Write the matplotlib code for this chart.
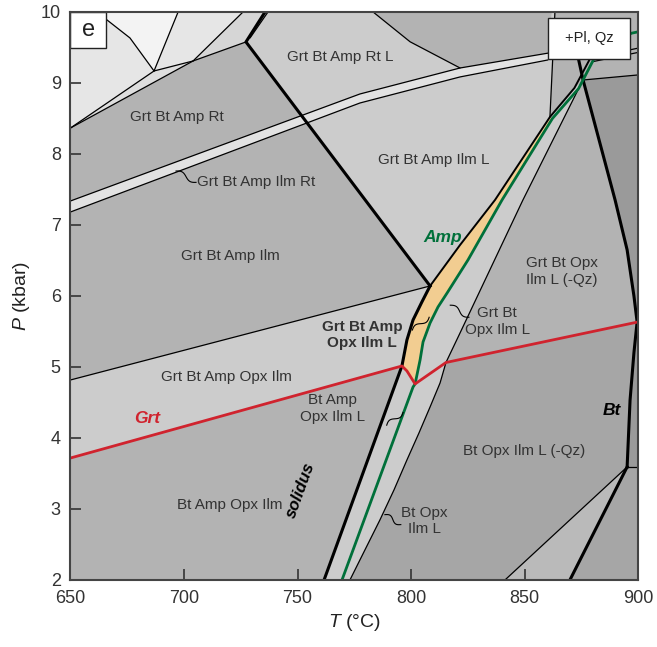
import matplotlib
matplotlib.use('Agg')
import matplotlib.pyplot as plt
import numpy as np
from matplotlib.patches import Polygon, Rectangle

plt.rcParams['font.family'] = ['Liberation Sans', 'DejaVu Sans']
plt.rcParams['mathtext.fontset'] = 'custom'
plt.rcParams['mathtext.it'] = 'Liberation Sans:italic'
plt.rcParams['mathtext.rm'] = 'Liberation Sans'

# ---- phase boundaries (T in degC, P in kbar) ----
solidus_T = [761.7, 796.0, 798.2, 800.9, 804.8, 808.4]
solidus_P = [2.0, 5.014, 5.38, 5.662, 5.916, 6.141]

amp_edge_T = [808.4, 821.6, 837.0, 861.2, 872.0, 879.0]
amp_edge_P = [6.141, 6.718, 7.352, 8.521, 8.93, 9.35]

amp_out_T = [769.6, 800.9, 801.8, 804.0, 805.3, 808.4, 811.9, 815.9, 825.1, 840.1, 862.3, 873.8, 880.6, 897.0, 900.0]
amp_out_P = [2.0, 4.718, 4.761, 5.099, 5.352, 5.62, 5.845, 6.042, 6.507, 7.352, 8.50, 8.92, 9.34, 9.70, 9.72]

grt_out_T = [650.0, 796.0, 798.2, 801.8, 815.4, 900.0]
grt_out_P = [3.718, 5.014, 4.944, 4.761, 5.063, 5.634]

qz_out_T = [773.1, 779.7, 786.3, 792.5, 798.2, 803.5, 808.4, 812.8, 815.4, 821.6, 849.3, 875.3]
qz_out_P = [2.0, 2.423, 2.845, 3.268, 3.69, 4.07, 4.437, 4.775, 5.063, 5.479, 7.352, 9.014]
QZ_KINK = 8  # index where the Grt-out line meets qz-out

opx_in_T = [650.0, 808.4]
opx_in_P = [4.817, 6.141]

melt_in_T = [735.7, 727.3, 808.4]
melt_in_P = [10.0, 9.578, 6.141]
melt_in2_T = [729.1, 737.0]
melt_in2_P = [9.634, 10.0]

rt_up_T = [650.0, 777.5, 821.6, 860.3]
rt_up_P = [7.338, 8.845, 9.211, 9.42]
rt_lo_T = [650.0, 777.5, 821.6, 860.3]
rt_lo_P = [7.183, 8.718, 9.085, 9.324]

tl_a_T = [650.0, 686.8]; tl_a_P = [8.366, 9.169]
tl_b_T = [650.0, 704.0, 727.3]; tl_b_P = [8.366, 9.31, 9.578]
tl_c_T = [686.8, 704.0]; tl_c_P = [9.169, 9.31]
tl_d_T = [686.8, 697.4]; tl_d_P = [9.169, 10.0]
tl_e_T = [686.8, 676.2, 666.1, 662.0]; tl_e_P = [9.169, 9.634, 9.887, 10.0]
tl_f_T = [704.0, 726.0]; tl_f_P = [9.31, 10.0]

top_T = [783.3, 799.6, 821.6]
top_P = [10.0, 9.58, 9.211]

vert_T = [861.2, 863.4]
vert_P = [8.521, 10.0]

bt_out_T = [873.0, 875.8, 889.9, 895.2, 898.2, 899.6, 898.2, 896.5, 895.2]
bt_out_P = [9.45, 9.042, 7.352, 6.65, 6.0, 5.634, 5.2, 4.535, 3.592]
bt_low_T = [895.2, 870.0]; bt_low_P = [3.592, 2.0]
bt_thin_T = [895.2, 841.4]; bt_thin_P = [3.592, 2.0]
bt_h_T = [895.2, 900.0]; bt_h_P = [3.592, 3.592]
tr_T = [875.8, 900.0]; tr_P = [9.042, 9.113]
tr2_T = [880.0, 900.0]; tr2_P = [9.36, 9.49]
tr3_T = [880.0, 900.0]; tr3_P = [9.30, 9.43]

x_ticks = [650, 700, 750, 800, 850, 900]
y_ticks = [2, 3, 4, 5, 6, 7, 8, 9, 10]


def pts(T, P):
    return np.column_stack([T, P])


fig = plt.figure(figsize=(6.57, 6.47), dpi=100)
ax = fig.add_axes([0.1073, 0.1036, 0.8638, 0.8779])
ax.set_xlim(650, 900)
ax.set_ylim(2, 10)
ax.set_autoscale_on(False)

def fill(poly, color, z=1):
    ax.add_patch(Polygon(poly, closed=True, facecolor=color, edgecolor='none', zorder=z))

# base colour
fill(np.array([[650, 2], [900, 2], [900, 10], [650, 10]]), '#b3b3b3', 0.5)

sol = pts(solidus_T, solidus_P)
ae = pts(amp_edge_T, amp_edge_P)
gr = pts(amp_out_T, amp_out_P)
rd = pts(grt_out_T, grt_out_P)
qz = pts(qz_out_T, qz_out_P)
bt = pts(bt_out_T, bt_out_P)

# Bt Opx Ilm L (-Qz)
fill(np.vstack([qz[:QZ_KINK + 1], rd[4:], [[900, 2]]]), '#a6a6a6')
# dark strip right of Bt-out
fill(np.vstack([bt[1:], [[900, bt_h_P[0]], [900, tr_P[1]]]]), '#9a9a9a')
# small triangle
fill(np.array([[bt_thin_T[0], bt_thin_P[0]], [bt_thin_T[1], bt_thin_P[1]], [bt_low_T[1], bt_low_P[1]]]), '#bababa')
# Grt Bt Amp Opx Ilm
fill(np.vstack([pts(opx_in_T, opx_in_P), sol[1:][::-1], rd[:2][::-1]]), '#cccccc')
# melt band (solidus to qz-out)
fill(np.vstack([sol, ae[1:5], qz[::-1]]), '#cccccc')
# right of melt-in line
fill(np.vstack([[[808.4, 6.141], [727.3, 9.578], [735.7, 10.0], [vert_T[1], vert_P[1]]], ae[1:4][::-1]]), '#cccccc')
# Rt/Ilm band
fill(np.vstack([pts(rt_up_T, rt_up_P), pts(rt_lo_T, rt_lo_P)[::-1]]), '#e2e2e2')
# top darker field
fill(np.vstack([pts(top_T, top_P), pts(rt_up_T, rt_up_P)[3:], [[862.0, 10.0]]]), '#b3b3b3')
# top-left fields
fill(np.array([[650, 10], [650, 8.366], [704.0, 9.31], [727.3, 9.578], [735.7, 10]]), '#e6e6e6')
fill(np.array([[662.0, 10], [666.1, 9.887], [676.2, 9.634], [686.8, 9.169], [697.4, 10]]), '#f3f3f3')
fill(np.array([[726.0, 10], [704.0, 9.31], [727.3, 9.578], [735.7, 10]]), '#d6d6d6')
fill(np.array([[650, 8.366], [686.8, 9.169], [704.0, 9.31]]), '#dedede')
# orange field Grt Bt Amp Opx Ilm L
fill(np.vstack([sol[1:], ae[1:4], gr[2:11][::-1], rd[2:3]]), '#f2cd91', 1.5)

# thin lines
thin = dict(color='k', lw=0.9, zorder=3, solid_capstyle='round')
for T, P in [(opx_in_T, opx_in_P), (qz_out_T, qz_out_P), (rt_up_T, rt_up_P), (rt_lo_T, rt_lo_P),
             (tl_a_T, tl_a_P), (tl_b_T, tl_b_P), (tl_c_T, tl_c_P), (tl_d_T, tl_d_P),
             (tl_e_T, tl_e_P), (tl_f_T, tl_f_P), (top_T, top_P), (vert_T, vert_P),
             (bt_thin_T, bt_thin_P), (bt_h_T, bt_h_P), (tr_T, tr_P), (melt_in2_T, melt_in2_P),
             (tr2_T, tr2_P), (tr3_T, tr3_P)]:
    ax.plot(T, P, **thin)
ax.plot(amp_edge_T, amp_edge_P, color='k', lw=1.4, zorder=3)
thick = dict(color='k', lw=2.2, zorder=4, solid_joinstyle='round')
for T, P in [(solidus_T, solidus_P), (melt_in_T, melt_in_P), (bt_out_T, bt_out_P), (bt_low_T, bt_low_P)]:
    ax.plot(T, P, **thick)
ax.plot(amp_out_T, amp_out_P, color='#00703a', lw=2.0, zorder=5)
ax.plot(grt_out_T, grt_out_P, color='#d0232e', lw=2.0, zorder=5)

# labels
tc = '#333333'
fs = 11
def lab(x, y, s, **kw):
    d = dict(color=tc, fontsize=fs, ha='center', va='center', zorder=6, linespacing=1.25)
    d.update(kw)
    ax.text(x, y, s, **d)

lab(768.7, 9.37, 'Grt Bt Amp Rt L')
lab(696.9, 8.52, 'Grt Bt Amp Rt')
lab(705.7, 7.60, 'Grt Bt Amp Ilm Rt', ha='left')
lab(810.1, 7.92, 'Grt Bt Amp Ilm L')
lab(720.3, 6.56, 'Grt Bt Amp Ilm')
lab(814.1, 6.83, 'Amp', color='#00703a', fontsize=12.5, fontweight='bold', style='italic')
lab(866.5, 6.34, 'Grt Bt Opx\nIlm L (-Qz)')
lab(778.4, 5.45, 'Grt Bt Amp\nOpx Ilm L', fontweight='bold')
lab(838.0, 5.64, 'Grt Bt\nOpx Ilm L')
lab(718.6, 4.86, 'Grt Bt Amp Opx Ilm')
lab(683.7, 4.28, 'Grt', color='#d0232e', fontsize=12.5, fontweight='bold', style='italic')
lab(765.6, 4.42, 'Bt Amp\nOpx Ilm L')
lab(888.6, 4.39, 'Bt', color='k', fontsize=12.5, fontweight='bold', style='italic')
lab(849.8, 3.82, 'Bt Opx Ilm L (-Qz)')
lab(751.5, 3.27, 'solidus', color='k', fontsize=12, fontweight='bold', style='italic', rotation=70)
lab(720.3, 3.06, 'Bt Amp Opx Ilm')
lab(806.0, 2.83, 'Bt Opx\nIlm L')

def squiggle(p0, p1, amp=2.2):
    a = ax.transData.transform(p0)
    b = ax.transData.transform(p1)
    t = np.linspace(0, 1, 40)
    d = b - a
    L = np.hypot(d[0], d[1])
    n = np.array([-d[1], d[0]]) / L
    q = a[None, :] + t[:, None] * d[None, :] + (amp * np.sin(2 * np.pi * t))[:, None] * n[None, :]
    q = ax.transData.inverted().transform(q)
    ax.plot(q[:, 0], q[:, 1], color='k', lw=0.8, zorder=6)

squiggle((696.5, 7.76), (705.3, 7.60))
squiggle((800.6, 5.52), (808.0, 5.70))
squiggle((817.3, 5.87), (825.5, 5.70))
squiggle((789.3, 4.18), (796.5, 4.36))
squiggle((788.5, 2.92), (795.5, 2.78))

# inset boxes
ax.add_patch(Rectangle((0, 1 - 36 / 568), 36 / 567.5, 36 / 568, transform=ax.transAxes,
                       facecolor='white', edgecolor='#222222', lw=1.0, zorder=7))
ax.text(18 / 567.5, 1 - 18 / 568, 'e', transform=ax.transAxes, ha='center', va='center',
        fontsize=17, color='#222222', zorder=8)
ax.add_patch(Rectangle((0.8414, 0.9173), 0.1445, 0.0722, transform=ax.transAxes,
                       facecolor='white', edgecolor='#222222', lw=1.0, zorder=7))
ax.text(0.9137, 0.9533, '+Pl, Qz', transform=ax.transAxes, ha='center', va='center',
        fontsize=10.5, color='#222222', zorder=8)

ax.set_xticks(x_ticks)
ax.set_yticks(y_ticks)
ax.tick_params(direction='in', length=8, width=1.2, labelsize=13, colors='#333333', pad=7)
for s in ax.spines.values():
    s.set_linewidth(1.5)
    s.set_color('#444444')
    s.set_zorder(9)
ax.set_xlabel(r'$\mathit{T}$ (°C)', fontsize=14, color='#222222', labelpad=4)
ax.set_ylabel(r'$\mathit{P}$ (kbar)', fontsize=14, color='#222222', labelpad=6)

fig.savefig('out.png', dpi=100)
